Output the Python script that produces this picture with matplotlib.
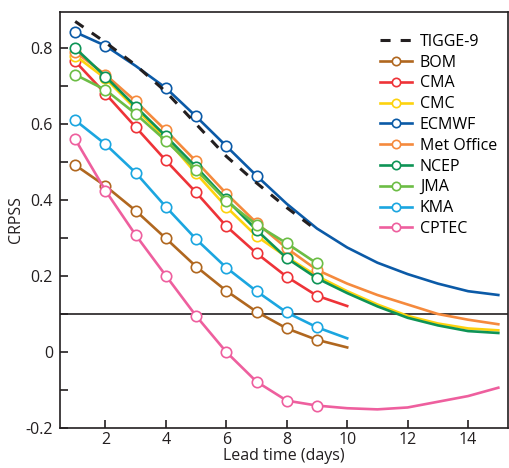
import matplotlib
matplotlib.use("Agg")
import matplotlib.pyplot as plt
from matplotlib.ticker import MultipleLocator

plt.rcParams['font.family'] = ['Open Sans', 'DejaVu Sans']

days_tigge = [1, 2, 3, 4, 5, 6, 7, 8, 9]
tigge = [0.87, 0.815, 0.755, 0.685, 0.60, 0.515, 0.445, 0.38, 0.32]

days9 = [1, 2, 3, 4, 5, 6, 7, 8, 9]
days10 = [1, 2, 3, 4, 5, 6, 7, 8, 9, 10]
days15 = list(range(1, 16))

bom = [0.492, 0.437, 0.372, 0.299, 0.225, 0.161, 0.106, 0.062, 0.032, 0.012]
cma = [0.765, 0.68, 0.592, 0.504, 0.42, 0.331, 0.26, 0.198, 0.148, 0.121]
cmc = [0.78, 0.72, 0.64, 0.562, 0.47, 0.382, 0.305, 0.25, 0.20, 0.16, 0.125, 0.095, 0.075, 0.062, 0.057]
ecmwf = [0.842, 0.806, 0.753, 0.695, 0.62, 0.542, 0.464, 0.39, 0.325, 0.275, 0.235, 0.205, 0.18, 0.16, 0.15]
metoffice = [0.79, 0.73, 0.66, 0.583, 0.502, 0.417, 0.34, 0.273, 0.216, 0.18, 0.15, 0.125, 0.10, 0.085, 0.073]
ncep = [0.80, 0.725, 0.646, 0.568, 0.487, 0.402, 0.321, 0.247, 0.194, 0.155, 0.12, 0.09, 0.07, 0.055, 0.05]
jma = [0.73, 0.69, 0.627, 0.556, 0.48, 0.398, 0.335, 0.286, 0.233]
kma = [0.61, 0.547, 0.472, 0.382, 0.297, 0.222, 0.16, 0.104, 0.065, 0.036]
cptec = [0.56, 0.425, 0.308, 0.201, 0.095, 0.0, -0.078, -0.128, -0.141, -0.148, -0.151, -0.146, -0.131, -0.116, -0.094]

series = [
    ("BOM", days10, bom, "#b0671f", list(range(9))),
    ("CMA", days10, cma, "#ee3338", list(range(9))),
    ("CMC", days15, cmc, "#fdd20e", list(range(9))),
    ("ECMWF", days15, ecmwf, "#0b5aa7", [0, 1, 3, 4, 5, 6]),
    ("Met Office", days15, metoffice, "#f58a3d", list(range(9))),
    ("NCEP", days15, ncep, "#0e9456", list(range(9))),
    ("JMA", days9, jma, "#6cbd45", list(range(9))),
    ("KMA", days10, kma, "#1ba6e0", list(range(9))),
    ("CPTEC", days15, cptec, "#ee5f9e", list(range(9))),
]

fig = plt.figure(figsize=(5.09, 4.68), dpi=100)
ax = fig.add_axes([0.118, 0.0855, 0.880, 0.889])

ax.axhline(0.1, color="#231f20", lw=1.2, zorder=1)

ax.plot(days_tigge, tigge, color="#231f20", lw=2.2, dashes=(3.3, 3.3),
        label="TIGGE-9", zorder=3)

for name, x, y, c, me in series:
    ax.plot(x, y, color=c, lw=1.9, marker="o", markevery=me, ms=7.5,
            mfc="white", mec=c, mew=1.2, label=name, zorder=2)

ax.set_xlim(0.5, 15.32)
ax.set_ylim(-0.2, 0.895)
ax.yaxis.set_minor_locator(MultipleLocator(0.1))
ax.set_yticks([-0.2, 0, 0.2, 0.4, 0.6, 0.8])
ax.set_yticklabels(["-0.2", "0", "0.2", "0.4", "0.6", "0.8"])
ax.set_xticks([2, 4, 6, 8, 10, 12, 14])
ax.tick_params(axis="both", which="both", direction="in", labelsize=11.5,
               colors="#231f20", width=1.2, length=6)
ax.tick_params(axis="x", pad=3)
ax.tick_params(axis="y", pad=5)
for s in ax.spines.values():
    s.set_linewidth(1.2)
    s.set_color("#231f20")

ax.set_xlabel("Lead time (days)", fontsize=11.5, color="#231f20", labelpad=0)
ax.set_ylabel("CRPSS", fontsize=11.5, color="#231f20", labelpad=1)

leg = ax.legend(loc="upper right", bbox_to_anchor=(1.008, 0.982), frameon=False,
                fontsize=11.5, handlelength=2.0, handletextpad=0.5,
                labelspacing=0.30, markerscale=0.8)

fig.savefig("out.png", dpi=100)
